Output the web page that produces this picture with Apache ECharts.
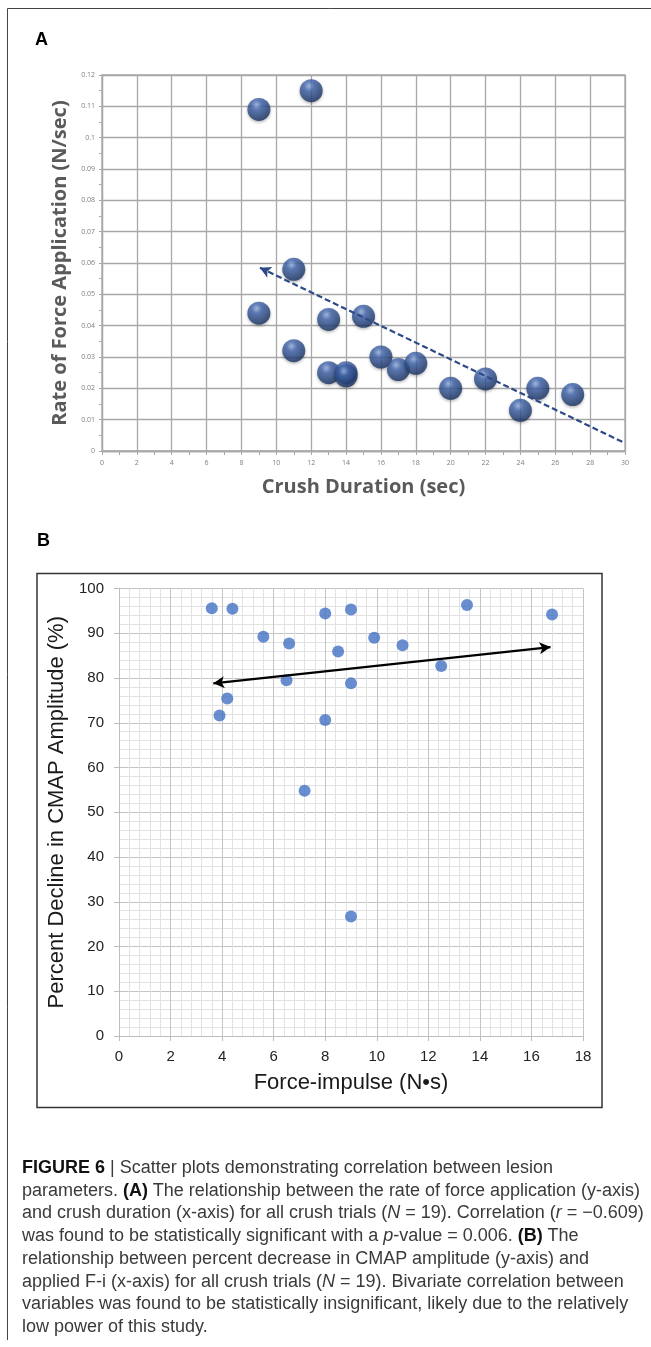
<!DOCTYPE html>
<html>
<head>
<meta charset="utf-8">
<script src="https://cdn.jsdelivr.net/npm/echarts@6/dist/echarts.min.js"></script>
<style>
  html, body { margin: 0; padding: 0; background: #fff; }
  #wrap { position: relative; width: 651px; height: 1347px; overflow: hidden; }
  #main { position: absolute; left: 0; top: 0; width: 651px; height: 1347px; }
  #caption {
    position: absolute; left: 22px; top: 1156px;
    font-family: "Liberation Sans", Arial, sans-serif; font-size: 18px;
    line-height: 22.7px; color: #3a3a3a; white-space: nowrap;
  }
  #caption b { color: #111; }
</style>
</head>
<body>
<div id="wrap">
  <div id="main"></div>
  <div id="caption">
    <b>FIGURE 6</b> | Scatter plots demonstrating correlation between lesion<br>
    parameters. <b>(A)</b> The relationship between the rate of force application (y-axis)<br>
    and crush duration (x-axis) for all crush trials (<i>N</i> = 19). Correlation (<i>r</i> = &minus;0.609)<br>
    was found to be statistically significant with a <i>p</i>-value = 0.006. <b>(B)</b> The<br>
    relationship between percent decrease in CMAP amplitude (y-axis) and<br>
    applied F-i (x-axis) for all crush trials (<i>N</i> = 19). Bivariate correlation between<br>
    variables was found to be statistically insignificant, likely due to the relatively<br>
    low power of this study.
  </div>
</div>
<script>
// panel A: crush duration (sec) vs rate of force application (N/sec)
var crushDuration = [9, 12, 11, 9, 11, 13, 15, 13, 14, 14, 16, 17, 18, 20, 22, 24, 25, 27];
var forceRate = [0.109, 0.115, 0.058, 0.044, 0.032, 0.042, 0.043, 0.025, 0.025, 0.024, 0.030, 0.026, 0.028, 0.020, 0.023, 0.013, 0.020, 0.018];
var trendA = [[9.06, 0.0585], [30, 0.0025]];

// panel B: force-impulse (N·s) vs percent decline in CMAP amplitude
var forceImpulse = [3.6, 4.4, 5.6, 6.6, 6.5, 4.2, 3.9, 8, 8, 9, 8.5, 9.9, 11, 13.5, 16.8, 12.5, 9, 7.2, 9];
var cmapDecline = [95.6, 95.5, 89.2, 87.7, 79.5, 75.4, 71.6, 94.4, 70.6, 95.3, 85.9, 89.0, 87.3, 96.3, 94.2, 82.7, 78.8, 54.8, 26.7];
var trendB = [[3.66, 78.8], [16.74, 86.9]];

function pairs(xs, ys) {
    return xs.map(function (x, i) { return [x, ys[i]]; });
}

var dom = document.getElementById("main");
var myChart = echarts.init(dom);

var gridA = '#a8a8a8';
var sphere = {
    type: 'radial', x: 0.4, y: 0.3, r: 0.72,
    colorStops: [
        {offset: 0, color: '#9ab3e2'},
        {offset: 0.3, color: '#4166ae'},
        {offset: 1, color: '#18305e'}
    ]
};

var option = {
    animation: false,
    textStyle: {fontFamily: 'Liberation Sans, Arial, sans-serif'},
    grid: [
        {left: 102, top: 75, width: 523, height: 376, show: true, borderColor: gridA, borderWidth: 1.3},
        {left: 119, top: 588.5, width: 464, height: 447.5}
    ],
    xAxis: [
        {
            gridIndex: 0, type: 'value', min: 0, max: 30, interval: 2,
            name: 'Crush Duration (sec)', nameLocation: 'middle', nameGap: 26,
            nameTextStyle: {fontFamily: 'Open Sans', fontWeight: 'bold', fontSize: 20, color: '#5a5a5a'},
            axisLine: {lineStyle: {color: gridA, width: 1.3}},
            axisTick: {show: true, length: 4, lineStyle: {color: gridA}},
            minorTick: {show: true, splitNumber: 2, length: 4, lineStyle: {color: gridA}},
            axisLabel: {fontFamily: 'Open Sans', fontSize: 7, color: '#7f7f7f', margin: 8},
            splitLine: {lineStyle: {color: gridA, width: 1.3}}
        },
        {
            gridIndex: 1, type: 'value', min: 0, max: 18, interval: 2,
            name: 'Force-impulse (N•s)', nameLocation: 'middle', nameGap: 36,
            nameTextStyle: {fontSize: 22, color: '#1a1a1a'},
            axisLine: {lineStyle: {color: '#bdbdbd'}},
            axisTick: {show: true, length: 5, lineStyle: {color: '#bdbdbd'}},
            axisLabel: {fontSize: 15, color: '#222', margin: 13},
            splitLine: {lineStyle: {color: '#c4c4c4'}},
            minorTick: {show: false, splitNumber: 5},
            minorSplitLine: {show: true, lineStyle: {color: '#e2e2e2'}}
        }
    ],
    yAxis: [
        {
            gridIndex: 0, type: 'value', min: 0, max: 0.12, interval: 0.01,
            name: 'Rate of Force Application (N/sec)', nameLocation: 'middle', nameGap: 30,
            nameTextStyle: {fontFamily: 'Open Sans', fontWeight: 'bold', fontSize: 20, color: '#5a5a5a'},
            axisLine: {show: true, lineStyle: {color: gridA, width: 1.3}},
            axisTick: {show: true, length: 3, lineStyle: {color: gridA}},
            minorTick: {show: true, splitNumber: 2, length: 3, lineStyle: {color: gridA}},
            axisLabel: {fontFamily: 'Open Sans', fontSize: 7, color: '#7f7f7f', margin: 7},
            splitLine: {lineStyle: {color: gridA, width: 1.3}}
        },
        {
            gridIndex: 1, type: 'value', min: 0, max: 100, interval: 10,
            name: 'Percent Decline in CMAP Amplitude (%)', nameLocation: 'middle', nameGap: 47,
            nameTextStyle: {fontSize: 22, color: '#1a1a1a'},
            axisLine: {show: true, lineStyle: {color: '#bdbdbd'}},
            axisTick: {show: true, length: 5, lineStyle: {color: '#bdbdbd'}},
            axisLabel: {fontSize: 15, color: '#222', margin: 15},
            splitLine: {lineStyle: {color: '#c4c4c4'}},
            minorTick: {show: false, splitNumber: 5},
            minorSplitLine: {show: true, lineStyle: {color: '#e2e2e2'}}
        }
    ],
    graphic: [
        // outer figure frame (top + left)
        {type: 'polyline', silent: true, shape: {points: [[7.5, 1340], [7.5, 8.5], [651, 8.5]]},
            style: {stroke: '#444', lineWidth: 1, fill: null}},
        // box around panel B
        {type: 'rect', silent: true, shape: {x: 37, y: 573.5, width: 565, height: 534},
            style: {stroke: '#333', lineWidth: 1.5, fill: null}},
        {type: 'text', left: 35, top: 31, style: {text: 'A', font: 'bold 18px Liberation Sans', fill: '#000'}},
        {type: 'text', left: 37, top: 532, style: {text: 'B', font: 'bold 18px Liberation Sans', fill: '#000'}}
    ],
    series: [
        {
            type: 'scatter', xAxisIndex: 0, yAxisIndex: 0,
            data: pairs(crushDuration, forceRate),
            symbolSize: 23,
            itemStyle: {color: sphere, shadowBlur: 3, shadowOffsetY: 1.5, shadowColor: 'rgba(0,0,0,0.35)'}
        },
        {
            type: 'scatter', xAxisIndex: 0, yAxisIndex: 0, data: [], z: 5,
            markLine: {
                silent: true, symbol: ['arrow', 'none'], symbolSize: [9, 11],
                label: {show: false},
                lineStyle: {type: [6, 3], color: '#2d4a88', width: 2.2},
                data: [[{coord: trendA[0]}, {coord: trendA[1]}]]
            }
        },
        {
            type: 'scatter', xAxisIndex: 1, yAxisIndex: 1,
            data: pairs(forceImpulse, cmapDecline),
            symbolSize: 12,
            itemStyle: {color: '#4472c4'}
        },
        {
            type: 'scatter', xAxisIndex: 1, yAxisIndex: 1, data: [], z: 5,
            markLine: {
                silent: true, symbol: ['arrow', 'arrow'], symbolSize: [9, 11],
                label: {show: false},
                lineStyle: {type: 'solid', color: '#000', width: 2.3},
                data: [[{coord: trendB[0]}, {coord: trendB[1]}]]
            }
        }
    ]
};
if (option && typeof option === "object") {
    myChart.setOption(option);
}
</script>
</body>
</html>
